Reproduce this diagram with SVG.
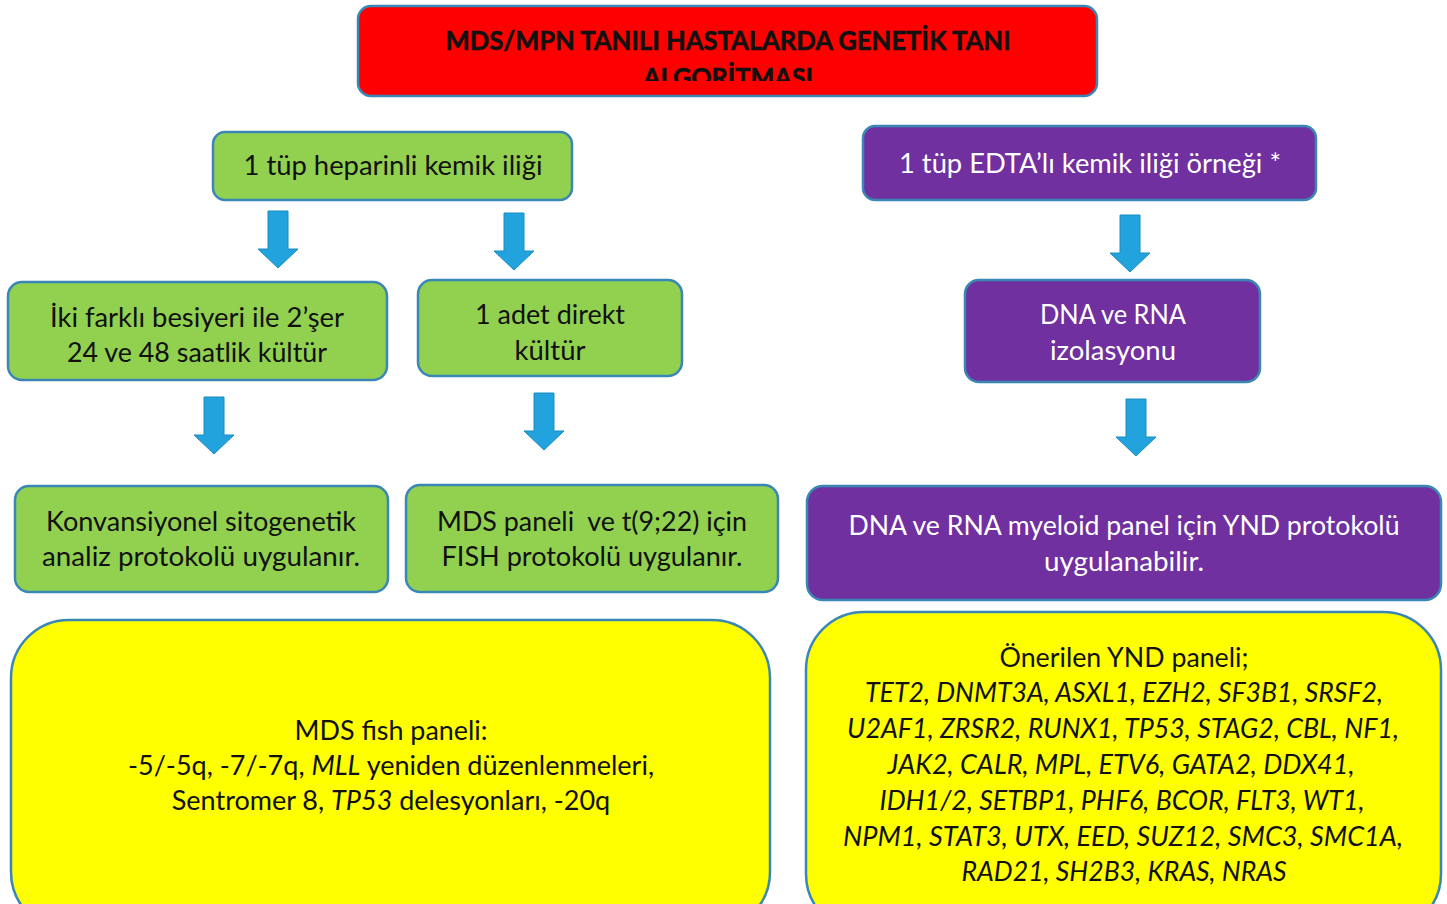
<svg xmlns="http://www.w3.org/2000/svg" xmlns:xlink="http://www.w3.org/1999/xlink" width="1447" height="904" viewBox="0 0 1447 904">
  <style>
    .box { stroke: #3A86B4; stroke-width: 2.5; }
    .red { fill: #FF0000; }
    .green { fill: #92D050; }
    .purple { fill: #7030A0; }
    .yellow { fill: #FFFF00; }
    text { font-family: Lato, "Open Sans", "Noto Sans", sans-serif; font-size: 27px; text-anchor: middle; fill: #111; }
    .w { fill: #FFFFFF; }
    .title { font-weight: bold; font-size: 26px; fill: #111; stroke: #111; stroke-width: 0.6; }
    .it { font-style: italic; }
    .arrow { fill: #22A3DD; stroke: #1A8CC2; stroke-width: 1; }
  </style>
  <defs>
    <path id="down" d="M-10,0 H10 V38 H20 L0,57 L-20,38 H-10 Z"/>
    <clipPath id="titleClip">
      <rect x="358" y="6" width="740" height="75"/>
    </clipPath>
  </defs>
  <rect width="1447" height="904" fill="#FFFFFF"/>

  <!-- connectors: block arrows -->
  <g id="connectors" class="arrow">
    <use xlink:href="#down" x="278" y="211"/>
    <use xlink:href="#down" x="514" y="213"/>
    <use xlink:href="#down" x="1130" y="215"/>
    <use xlink:href="#down" x="214" y="397"/>
    <use xlink:href="#down" x="544" y="393"/>
    <use xlink:href="#down" x="1136" y="399"/>
  </g>

  <g id="title">
    <rect class="box red" x="358" y="6" width="739" height="90" rx="13"/>
    <g clip-path="url(#titleClip)">
      <text class="title" x="728" y="50" textLength="565" lengthAdjust="spacingAndGlyphs">MDS/MPN TANILI HASTALARDA GENETİK TANI</text>
      <text class="title" x="728" y="87" textLength="170" lengthAdjust="spacingAndGlyphs">ALGORİTMASI</text>
    </g>
  </g>

  <g id="heparin">
    <rect class="box green" x="213" y="132" width="359" height="68" rx="12"/>
    <text x="393" y="175" textLength="299" lengthAdjust="spacingAndGlyphs">1 tüp heparinli kemik iliği</text>
  </g>

  <g id="edta">
    <rect class="box purple" x="863" y="126" width="453" height="74" rx="12"/>
    <text class="w" x="1090" y="173" textLength="382" lengthAdjust="spacingAndGlyphs">1 tüp EDTA’lı kemik iliği örneği *</text>
  </g>

  <g id="culture2">
    <rect class="box green" x="8" y="282" width="379" height="98" rx="14"/>
    <text x="197" y="327" textLength="294" lengthAdjust="spacingAndGlyphs">İki farklı besiyeri ile 2’şer</text>
    <text x="197" y="362" textLength="260" lengthAdjust="spacingAndGlyphs">24 ve 48 saatlik kültür</text>
  </g>

  <g id="direct">
    <rect class="box green" x="418" y="280" width="264" height="96" rx="14"/>
    <text x="550" y="324" textLength="150" lengthAdjust="spacingAndGlyphs">1 adet direkt</text>
    <text x="550" y="360" textLength="71" lengthAdjust="spacingAndGlyphs">kültür</text>
  </g>

  <g id="isolation">
    <rect class="box purple" x="965" y="280" width="295" height="102" rx="14"/>
    <text class="w" x="1113" y="324" textLength="146" lengthAdjust="spacingAndGlyphs">DNA ve RNA</text>
    <text class="w" x="1113" y="360" textLength="126" lengthAdjust="spacingAndGlyphs">izolasyonu</text>
  </g>

  <g id="conventional">
    <rect class="box green" x="15" y="486" width="373" height="106" rx="14"/>
    <text x="201" y="531" textLength="310" lengthAdjust="spacingAndGlyphs">Konvansiyonel sitogenetik</text>
    <text x="201" y="566" textLength="318" lengthAdjust="spacingAndGlyphs">analiz protokolü uygulanır.</text>
  </g>

  <g id="fish">
    <rect class="box green" x="406" y="485" width="372" height="107" rx="14"/>
    <text x="592" y="531" textLength="310" lengthAdjust="spacingAndGlyphs">MDS paneli&#160; ve t(9;22) için</text>
    <text x="592" y="566" textLength="301" lengthAdjust="spacingAndGlyphs">FISH protokolü uygulanır.</text>
  </g>

  <g id="ngs">
    <rect class="box purple" x="807" y="486" width="634" height="114" rx="16"/>
    <text class="w" x="1124" y="535" textLength="551" lengthAdjust="spacingAndGlyphs">DNA ve RNA myeloid panel için YND protokolü</text>
    <text class="w" x="1124" y="571" textLength="160" lengthAdjust="spacingAndGlyphs">uygulanabilir.</text>
  </g>

  <g id="fish-panel">
    <rect class="box yellow" x="11" y="620" width="759" height="310" rx="58"/>
    <text x="391" y="740" textLength="193" lengthAdjust="spacingAndGlyphs">MDS fish paneli:</text>
    <text x="391" y="775">-5/-5q, -7/-7q, <tspan class="it">MLL</tspan> yeniden düzenlenmeleri,</text>
    <text x="391" y="810">Sentromer 8, <tspan class="it">TP53</tspan> delesyonları, -20q</text>
  </g>

  <g id="ngs-panel">
    <rect class="box yellow" x="806" y="612" width="635" height="320" rx="58"/>
    <text x="1124" y="667" textLength="249" lengthAdjust="spacingAndGlyphs">Önerilen YND paneli;</text>
    <g class="it">
      <text class="it" x="1124" y="702" textLength="518" lengthAdjust="spacingAndGlyphs">TET2, DNMT3A, ASXL1, EZH2, SF3B1, SRSF2,</text>
      <text class="it" x="1123" y="738" textLength="552" lengthAdjust="spacingAndGlyphs">U2AF1, ZRSR2, RUNX1, TP53, STAG2, CBL, NF1,</text>
      <text class="it" x="1121" y="774" textLength="467" lengthAdjust="spacingAndGlyphs">JAK2, CALR, MPL, ETV6, GATA2, DDX41,</text>
      <text class="it" x="1122" y="810" textLength="485" lengthAdjust="spacingAndGlyphs">IDH1/2, SETBP1, PHF6, BCOR, FLT3, WT1,</text>
      <text class="it" x="1123" y="846" textLength="560" lengthAdjust="spacingAndGlyphs">NPM1, STAT3, UTX, EED, SUZ12, SMC3, SMC1A,</text>
      <text class="it" x="1124" y="881" textLength="325" lengthAdjust="spacingAndGlyphs">RAD21, SH2B3, KRAS, NRAS</text>
    </g>
  </g>
</svg>
